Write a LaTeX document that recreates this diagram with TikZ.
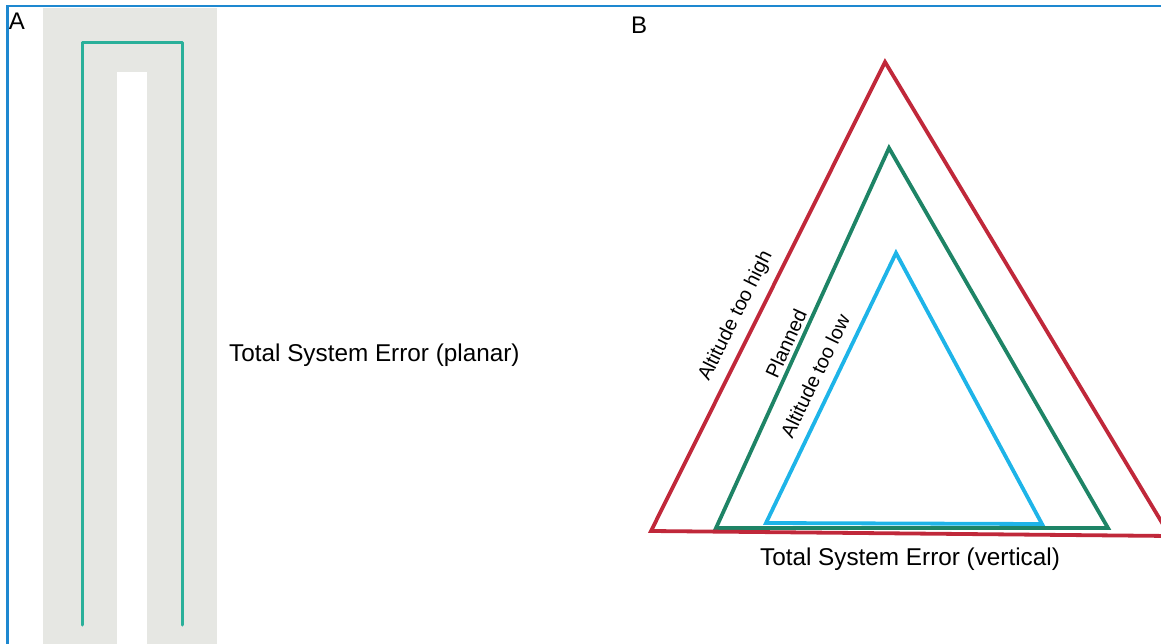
\documentclass[tikz,border=0pt]{standalone}
\usepackage{fontspec}
\setmainfont{Liberation Sans}
\definecolor{frameblue}{HTML}{1E88D0}
\definecolor{bandgray}{HTML}{E6E7E3}
\definecolor{pathteal}{HTML}{2AB09A}
\definecolor{highred}{HTML}{C0283A}
\definecolor{planngreen}{HTML}{1E8466}
\definecolor{lowblue}{HTML}{1EB4E8}
\begin{document}
\begin{tikzpicture}[x=1pt,y=-1pt,
  biglabel/.style={font=\fontsize{24.3}{27}\selectfont, inner sep=0pt},
  sidelabel/.style={font=\fontsize{19.8}{22}\selectfont, inner sep=0pt},
  panellabel/.style={font=\fontsize{24}{26}\selectfont, inner sep=0pt},
  tri/.style={line width=3.8pt, line join=miter}]
\useasboundingbox (0,0) rectangle (1161,644);
\begin{scope}
\clip (0,0) rectangle (1161,644);
% frame
\draw[frameblue, line width=2.5pt] (7.5,660) -- (7.5,6) -- (1170,6);
% panel A
\fill[bandgray] (43,8) rectangle (217,644);
\fill[white] (117,72) rectangle (147,644);
\coordinate (tl0) at (82,625);
\coordinate (tl1) at (82,43);
\coordinate (tr1) at (182,43);
\coordinate (tr0) at (182,625);
\draw[pathteal, line width=3pt, line cap=round, line join=round] (tl0) -- (tl1) -- (tr1) -- (tr0);
\node[panellabel, anchor=center] (la) at (17,21) {A};
\node[biglabel, anchor=west] (tsep) at (229,355) {Total System Error (planar)};
% panel B
\node[panellabel, anchor=center] (lb) at (639,25) {B};
\coordinate (rA) at (885,62);
\coordinate (rL) at (651,531);
\coordinate (rR) at (1170,536);
\coordinate (gA) at (889,148);
\coordinate (gL) at (716,528);
\coordinate (gR) at (1108,528);
\coordinate (bA) at (896,253);
\coordinate (bL) at (766,523);
\coordinate (bR) at (1042,524);
\draw[tri, planngreen] (gL) -- (gA) -- (gR) -- cycle;
\draw[tri, lowblue] (bL) -- (bA) -- (bR) -- cycle;
\draw[tri, highred] (rL) -- (rA) -- (rR) -- cycle;
\node[sidelabel, rotate=63.5] (thigh) at (736,316) {Altitude too high};
\node[sidelabel, rotate=65.5] (tplan) at (786,344) {Planned};
\node[sidelabel, rotate=64.3] (tlow) at (815,376) {Altitude too low};
\node[biglabel] (tsev) at (910,559) {Total System Error (vertical)};
\end{scope}
\end{tikzpicture}
\end{document}
